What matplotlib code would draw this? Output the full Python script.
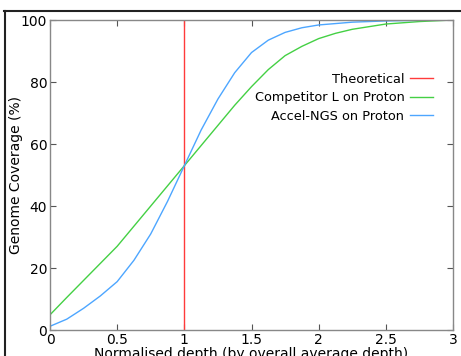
"""Genome coverage vs normalised depth, Proton runs."""

import matplotlib

matplotlib.use("Agg")
import matplotlib.pyplot as plt
from matplotlib.lines import Line2D

plt.rcParams.update({"font.family": "DejaVu Sans", "font.size": 10})

# Normalised depth (x) and cumulative genome coverage (%).
accel_depth = [0, 0.125, 0.25, 0.375, 0.5, 0.625, 0.75, 0.875, 1.0, 1.125,
               1.25, 1.375, 1.5, 1.625, 1.75, 1.875, 2.0, 2.25, 2.5, 2.75, 3.0]
accel_cov = [1.2, 3.5, 7.0, 11.0, 15.6, 22.5, 31.0, 41.5, 53.0, 64.5,
             74.5, 83.0, 89.5, 93.5, 96.0, 97.5, 98.4, 99.3, 99.7, 99.9, 100]

comp_depth = [0, 0.125, 0.25, 0.375, 0.5, 0.625, 0.75, 0.875, 1.0, 1.125,
              1.25, 1.375, 1.5, 1.625, 1.75, 1.875, 2.0, 2.125, 2.25, 2.5,
              2.75, 3.0]
comp_cov = [4.9, 10.5, 16.0, 21.5, 27.0, 33.5, 40.0, 46.5, 53.0, 59.5,
            66.0, 72.5, 78.5, 84.0, 88.5, 91.5, 94.0, 95.7, 97.0, 98.7,
            99.5, 100]

theory_x = [1, 1]
theory_y = [0, 100]

x_ticks = [0, 0.5, 1, 1.5, 2, 2.5, 3]
x_ticklabels = ["0", "0.5", "1", "1.5", "2", "2.5", "3"]
y_ticks = [0, 20, 40, 60, 80, 100]

W, H = 461, 356
fig = plt.figure(figsize=(W / 100, H / 100), dpi=100)
ax = fig.add_axes([50 / W, 1 - 330 / H, 403 / W, 310 / H])

ax.plot(theory_x, theory_y, color="#ff3b3b", lw=1.0, label="Theoretical")
ax.plot(comp_depth, comp_cov, color="#44d044", lw=1.0,
        label="Competitor L on Proton")
ax.plot(accel_depth, accel_cov, color="#4da6ff", lw=1.0,
        label="Accel-NGS on Proton")

ax.set_xlim(0, 3)
ax.set_ylim(0, 100)
ax.set_xticks(x_ticks, x_ticklabels)
ax.set_yticks(y_ticks)
ax.tick_params(direction="in", length=4, width=0.8, color="#555555",
               top=True, right=True, pad=2, labelsize=10)
for s in ax.spines.values():
    s.set_color("#888888")
    s.set_linewidth(1.0)

ax.set_xlabel("Normalised depth (by overall average depth)", labelpad=0,
              fontsize=10)
ax.set_ylabel("Genome Coverage (%)", fontsize=10)
ax.yaxis.set_label_coords(-0.066, 0.5)

ax.legend(loc="upper right", bbox_to_anchor=(0.95, 0.83), frameon=False,
          markerfirst=False, handlelength=1.8, handletextpad=0.4,
          labelspacing=0.42, borderaxespad=0, borderpad=0, fontsize=9.3)

# black frame from the original screenshot (top and left edges)
fig.add_artist(Line2D([4 / W, 1], [1 - 10.5 / H, 1 - 10.5 / H],
                      transform=fig.transFigure, color="#222222", lw=1.5))
fig.add_artist(Line2D([4.5 / W, 4.5 / W], [0, 1 - 10.5 / H],
                      transform=fig.transFigure, color="#222222", lw=1.5))

fig.savefig("out.png", dpi=100)
